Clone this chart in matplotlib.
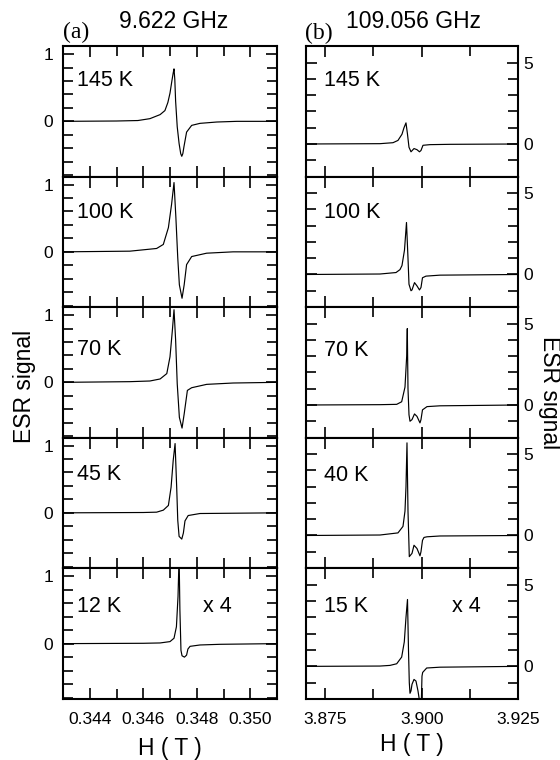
import matplotlib
matplotlib.use("Agg")
import matplotlib.pyplot as plt
from matplotlib.ticker import MultipleLocator, FixedLocator

# ---------------- data ----------------
left_temps = ["145 K", "100 K", "70 K", "45 K", "12 K"]
right_temps = ["145 K", "100 K", "70 K", "40 K", "15 K"]

# (a) 9.622 GHz, field in T
L145_x = [0.3430, 0.3450, 0.34580, 0.34625, 0.34663, 0.34681, 0.34692, 0.34700, 0.34707, 0.34712,
          0.34715, 0.34718, 0.34721, 0.34727, 0.34734, 0.34740, 0.34744, 0.34748, 0.34752, 0.34762,
          0.34781, 0.34812, 0.34875, 0.34950, 0.35100]
L145_y = [0.0, 0.005, 0.012, 0.04, 0.10, 0.16, 0.28, 0.42, 0.60, 0.72,
          0.78, 0.62, 0.30, -0.08, -0.33, -0.48, -0.52, -0.48, -0.38, -0.16,
          -0.06, -0.03, -0.01, 0.0, 0.0]

L100_x = [0.3430, 0.3455, 0.34650, 0.34675, 0.34694, 0.34706, 0.34715, 0.34722, 0.34729, 0.34735,
          0.34745, 0.34753, 0.34762, 0.34781, 0.34837, 0.34936, 0.3510]
L100_y = [0.0, 0.01, 0.05, 0.11, 0.36, 0.71, 1.03, 0.51, -0.09, -0.49,
          -0.69, -0.49, -0.19, -0.07, -0.02, 0.0, 0.0]

L70_x = [0.3430, 0.3455, 0.34625, 0.34663, 0.34688, 0.34700, 0.34709, 0.34715, 0.34721, 0.34727,
         0.34735, 0.34745, 0.34753, 0.34765, 0.34781, 0.34837, 0.34936, 0.3510]
L70_y = [0.0, 0.01, 0.02, 0.05, 0.13, 0.38, 0.78, 1.08, 0.63, -0.02,
         -0.52, -0.68, -0.47, -0.12, -0.08, -0.03, -0.01, 0.0]

L45_x = [0.3430, 0.3460, 0.34650, 0.34675, 0.34694, 0.34704, 0.34712, 0.34719, 0.34725, 0.34729,
         0.34734, 0.34744, 0.34750, 0.34756, 0.34768, 0.34812, 0.3510]
L45_y = [0.0, 0.005, 0.01, 0.04, 0.11, 0.38, 0.78, 1.03, 0.38, -0.11,
         -0.35, -0.39, -0.30, -0.12, -0.04, -0.01, 0.0]

L12_x = [0.3430, 0.3460, 0.34663, 0.34700, 0.34715, 0.34724, 0.34730, 0.34734, 0.34737, 0.34741,
         0.34745, 0.34754, 0.34762, 0.34767, 0.34775, 0.34812, 0.34887, 0.3510]
L12_y = [0.0, 0.005, 0.01, 0.03, 0.08, 0.25, 0.70, 1.30, 0.50, -0.10,
         -0.18, -0.20, -0.17, -0.08, -0.04, -0.02, -0.01, 0.0]

# (b) 109.056 GHz, field in T
R145_x = [3.870, 3.8892, 3.89257, 3.89386, 3.8949, 3.89542, 3.89594, 3.89633, 3.89672, 3.89724,
          3.89802, 3.89879, 3.89944, 3.89983, 3.90035, 3.90217, 3.90735, 3.925]
R145_y = [0.0, 0.02, 0.08, 0.22, 0.6, 1.0, 1.3, 0.6, -0.2, -0.48,
          -0.28, -0.35, -0.48, -0.4, -0.08, -0.04, -0.02, 0.0]

R100_x = [3.870, 3.8892, 3.89335, 3.89438, 3.8949, 3.89555, 3.89607, 3.89646, 3.89672, 3.89724,
          3.8975, 3.89815, 3.89879, 3.89944, 3.89983, 3.90022, 3.90113, 3.90476, 3.925]
R100_y = [0.0, 0.03, 0.12, 0.3, 0.55, 1.5, 3.2, 1.0, -0.6, -1.0,
          -0.95, -0.5, -0.7, -0.95, -0.8, -0.2, -0.1, -0.04, 0.0]

R70_x = [3.870, 3.8892, 3.89353, 3.89482, 3.89568, 3.89612, 3.89628, 3.89646, 3.89672, 3.89698,
         3.8975, 3.89815, 3.89879, 3.89957, 3.89983, 3.90022, 3.90139, 3.90476, 3.925]
R70_y = [0.0, 0.02, 0.04, 0.2, 1.1, 3.0, 4.7, 1.0, -0.6, -1.0,
         -0.9, -0.55, -0.7, -1.1, -0.9, -0.3, -0.1, -0.05, 0.0]

R40_x = [3.870, 3.8892, 3.89386, 3.89516, 3.89568, 3.89594, 3.8962, 3.89646, 3.8968, 3.8975,
         3.89802, 3.89879, 3.89957, 3.89983, 3.90022, 3.90061, 3.90139, 3.90476, 3.925]
R40_y = [0.0, 0.03, 0.16, 0.56, 1.5, 3.0, 5.7, 1.5, -1.3, -1.1,
         -0.6, -0.8, -1.25, -1.0, -0.3, -0.12, -0.08, -0.03, 0.0]

R15_x = [3.870, 3.8892, 3.89179, 3.89353, 3.89482, 3.8955, 3.89594, 3.89633, 3.89659, 3.8968,
         3.89698, 3.89724, 3.8975, 3.89802, 3.89853, 3.89905, 3.89957, 3.89991, 3.90009, 3.90027,
         3.90131, 3.90476, 3.925]
R15_y = [0.0, 0.02, 0.06, 0.16, 0.57, 1.5, 3.0, 4.1, 1.0, -1.0,
         -1.65, -1.5, -1.1, -0.8, -0.9, -1.5, -2.3, -2.3, -0.6, -0.37,
         -0.1, -0.05, 0.0]

left_series = [(L145_x, L145_y), (L100_x, L100_y), (L70_x, L70_y), (L45_x, L45_y), (L12_x, L12_y)]
right_series = [(R145_x, R145_y), (R100_x, R100_y), (R70_x, R70_y), (R40_x, R40_y), (R15_x, R15_y)]

left_xticks = [0.344, 0.346, 0.348, 0.350]
left_xticklabels = ["0.344", "0.346", "0.348", "0.350"]
right_xticks = [3.875, 3.900, 3.925]
right_xticklabels = ["3.875", "3.900", "3.925"]
left_yticks = [0, 1]
right_yticks = [0, 5]

# ---------------- layout ----------------
W, H = 560, 760
fig = plt.figure(figsize=(5.6, 7.6), dpi=100)
SANS = "Liberation Sans"
SERIF = "Liberation Serif"
TICK_FS = 12.5


def fx(px):
    return px / W


def fy(py):
    return 1 - py / H


bounds = [46, 176.5, 307, 437.5, 568, 699]
LX0, LX1 = 63, 277
RX0, RX1 = 306, 518

left_label_y = [80, 213, 349, 475, 607]
right_label_y = [80, 213, 350, 476, 607]


def style_axes(ax):
    for s in ax.spines.values():
        s.set_linewidth(1.5)
    ax.tick_params(which="both", direction="in", top=True, bottom=True, left=True, right=True,
                   length=8, width=1.2, labelsize=TICK_FS)
    ax.tick_params(which="minor", length=7)


for i in range(5):
    top, bot = bounds[i], bounds[i + 1]
    # left column
    ax = fig.add_axes([fx(LX0), fy(bot), fx(LX1 - LX0), (bot - top) / H])
    xs, ys = left_series[i]
    ax.plot(xs, ys, color="black", lw=0.85)
    ax.set_xlim(0.343, 0.351)
    ax.set_ylim(-0.82, 1.12)
    ax.xaxis.set_major_locator(FixedLocator(left_xticks))
    ax.xaxis.set_minor_locator(MultipleLocator(0.001))
    ax.yaxis.set_major_locator(FixedLocator(left_yticks))
    ax.yaxis.set_minor_locator(MultipleLocator(0.2))
    ax.set_yticklabels(["0", "1"])
    if i == 4:
        ax.set_xticklabels(left_xticklabels)
    else:
        ax.set_xticklabels([])
    style_axes(ax)
    ax.tick_params(axis="y", pad=7)
    ax.tick_params(axis="x", pad=9)
    for lab in ax.get_xticklabels() + ax.get_yticklabels():
        lab.set_fontfamily(SANS)
        lab.set_fontsize(TICK_FS)

    # right column
    ax2 = fig.add_axes([fx(RX0), fy(bot), fx(RX1 - RX0), (bot - top) / H])
    xs, ys = right_series[i]
    ax2.plot(xs, ys, color="black", lw=0.85)
    ax2.set_xlim(3.870, 3.925)
    ax2.set_ylim(-2.0, 6.03)
    ax2.xaxis.set_major_locator(FixedLocator(right_xticks))
    ax2.xaxis.set_minor_locator(MultipleLocator(0.0125))
    ax2.yaxis.set_major_locator(FixedLocator(right_yticks))
    ax2.yaxis.set_minor_locator(MultipleLocator(1))
    ax2.set_yticklabels(["0", "5"])
    if i == 4:
        ax2.set_xticklabels(right_xticklabels)
    else:
        ax2.set_xticklabels([])
    style_axes(ax2)
    ax2.tick_params(axis="y", labelleft=False, labelright=True, pad=4)
    ax2.tick_params(axis="x", pad=9)
    for lab in ax2.get_xticklabels() + ax2.get_yticklabels():
        lab.set_fontfamily(SANS)
        lab.set_fontsize(TICK_FS)

    fig.text(fx(77), fy(left_label_y[i]), left_temps[i], fontsize=15.5, family=SANS,
             ha="left", va="center")
    fig.text(fx(324), fy(right_label_y[i]), right_temps[i], fontsize=15.5, family=SANS,
             ha="left", va="center")

fig.text(fx(203), fy(607), "x 4", fontsize=15.5, family=SANS, ha="left", va="center")
fig.text(fx(452), fy(607), "x 4", fontsize=15.5, family=SANS, ha="left", va="center")

fig.text(fx(63), fy(32), "(a)", fontsize=17, family=SERIF, ha="left", va="center")
fig.text(fx(174), fy(21), "9.622 GHz", fontsize=16.5, family=SANS, ha="center", va="center")
fig.text(fx(305), fy(33), "(b)", fontsize=17, family=SERIF, ha="left", va="center")
fig.text(fx(413), fy(21), "109.056 GHz", fontsize=16.5, family=SANS, ha="center", va="center")

fig.text(fx(24), fy(386), "ESR signal", fontsize=16.5, family=SANS, rotation=90,
         ha="center", va="center")
fig.text(fx(549), fy(393), "ESR signal", fontsize=16.5, family=SANS, rotation=-90,
         ha="center", va="center")

fig.text(fx(170), fy(749), "H ( T )", fontsize=16.5, family=SANS, ha="center", va="center")
fig.text(fx(412), fy(745), "H ( T )", fontsize=16.5, family=SANS, ha="center", va="center")

fig.savefig("out.png", dpi=100)
